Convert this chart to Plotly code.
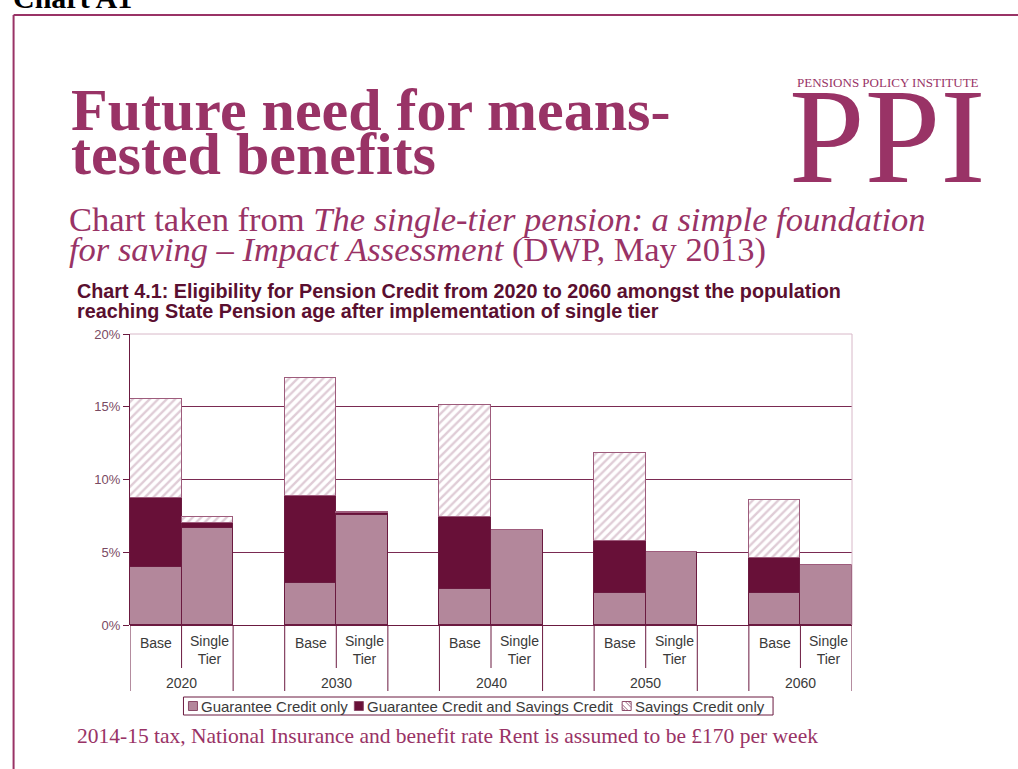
import plotly.graph_objects as go

# ---- data (percentage of population reaching State Pension age) ----
years = ["2020", "2030", "2040", "2050", "2060"]
scenarios = ["Base", "Single<br>Tier"]
series_names = ["Guarantee Credit only", "Guarantee Credit and Savings Credit", "Savings Credit only"]

base_gc_only = [4.0, 2.9, 2.5, 2.2, 2.2]
base_gc_and_sc = [4.7, 6.0, 4.95, 3.6, 2.4]
base_sc_only = [6.8, 8.05, 7.65, 6.0, 4.0]

st_gc_only = [6.65, 7.55, 6.5, 5.05, 4.15]
st_gc_and_sc = [0.35, 0.12, 0.0, 0.0, 0.0]
st_sc_only = [0.4, 0.1, 0.0, 0.0, 0.0]

y_ticks = [0, 5, 10, 15, 20]
y_tick_text = ["0%", "5%", "10%", "15%", "20%"]

# ---- page geometry (pixels) ----
W_PX, H_PX = 1018, 769
PLOT_L, PLOT_R, PLOT_T, PLOT_B = 129.5, 852, 334, 625
PW, PH = PLOT_R - PLOT_L, PLOT_B - PLOT_T


def px_x(px):
    return (px - PLOT_L) / PW


def px_y(py):
    return (PLOT_B - py) / PH


MAGENTA = "#993366"
MAROON = "#6B1A40"
LIGHT = "#B3879B"
DARK = "#681038"
HATCH = "#C09AAE"
SANS = "Arial, Liberation Sans"
SERIF = "Palatino Linotype, Book Antiqua, Liberation Serif, serif"

# each year uses three slots: Base, Single Tier, then a gap
x_base = [3 * i for i in range(len(years))]
x_st = [3 * i + 1 for i in range(len(years))]
xs = []
for b, s in zip(x_base, x_st):
    xs += [b, s]


def interleave(a, b):
    out = []
    for u, v in zip(a, b):
        out += [u, v]
    return out


gc_only = interleave(base_gc_only, st_gc_only)
gc_and_sc = interleave(base_gc_and_sc, st_gc_and_sc)
sc_only = interleave(base_sc_only, st_sc_only)

fig = go.Figure()
line = dict(color=MAROON, width=1)
fig.add_trace(go.Bar(x=xs, y=gc_only, width=1, name=series_names[0],
                     marker=dict(color=LIGHT, line=line)))
fig.add_trace(go.Bar(x=xs, y=gc_and_sc, width=1, name=series_names[1],
                     marker=dict(color=DARK, line=line)))
fig.add_trace(go.Bar(x=xs, y=sc_only, width=1, name=series_names[2],
                     marker=dict(color="white", line=dict(color="#9E5C7C", width=1),
                                 pattern=dict(shape="/", fgcolor=HATCH, bgcolor="white",
                                              size=6, solidity=0.4))))

annotations = []
shapes = []
cat_font = dict(family=SANS, size=14, color="#3a3a3a")

# category labels and dividers under the plot
for i, yr in enumerate(years):
    b, s = x_base[i], x_st[i]
    annotations.append(dict(x=b, y=px_y(643), xref="x", yref="paper", text=scenarios[0],
                            showarrow=False, yanchor="middle", font=cat_font))
    annotations.append(dict(x=s + 0.05, y=px_y(650), xref="x", yref="paper", text=scenarios[1],
                            showarrow=False, yanchor="middle", font=cat_font))
    annotations.append(dict(x=b + 0.5, y=px_y(683), xref="x", yref="paper", text=yr,
                            showarrow=False, yanchor="middle", font=cat_font))
    for xv in (b - 0.5, s + 0.5):
        shapes.append(dict(type="line", xref="x", yref="paper", x0=xv, x1=xv,
                           y0=0, y1=px_y(691), line=dict(color=MAROON, width=1)))
    shapes.append(dict(type="line", xref="x", yref="paper", x0=b + 0.5, x1=b + 0.5,
                       y0=0, y1=px_y(668), line=dict(color=MAROON, width=1)))

# light plot-area border on top and right
shapes.append(dict(type="line", xref="paper", yref="paper", x0=0, x1=1, y0=1, y1=1,
                   line=dict(color="#D8B8C8", width=1)))
shapes.append(dict(type="line", xref="paper", yref="paper", x0=1, x1=1, y0=0, y1=1,
                   line=dict(color="#D8B8C8", width=1)))

# compact legend: framed box, small swatches and labels
LEG_T, LEG_B = 697, 715
LEG_MID = (LEG_T + LEG_B) / 2
shapes.append(dict(type="rect", xref="paper", yref="paper", x0=px_x(183), x1=px_x(773),
                   y0=px_y(LEG_B), y1=px_y(LEG_T), line=dict(color=MAROON, width=1),
                   fillcolor="white"))
swatch_left = [188, 354, 622]
swatch_fill = [LIGHT, DARK, "white"]
for name, sx, fill in zip(series_names, swatch_left, swatch_fill):
    shapes.append(dict(type="rect", xref="paper", yref="paper", x0=px_x(sx), x1=px_x(sx + 9),
                       y0=px_y(LEG_MID + 4.5), y1=px_y(LEG_MID - 4.5),
                       line=dict(color="#8A4A68", width=1), fillcolor=fill))
    annotations.append(dict(x=px_x(sx + 11), y=px_y(LEG_MID), xref="paper", yref="paper",
                            xanchor="left", yanchor="middle", text=name, showarrow=False,
                            font=dict(family=SANS, size=15, color="#3a3a3a")))
# hatch strokes inside the "Savings Credit only" swatch
hatch_segments = [((622, LEG_MID + 1.5), (625, LEG_MID + 4.5)),
                  ((622, LEG_MID - 1.5), (628, LEG_MID + 4.5)),
                  ((625, LEG_MID - 4.5), (631, LEG_MID + 1.5)),
                  ((628, LEG_MID - 4.5), (631, LEG_MID - 1.5))]
for (hx0, hy0), (hx1, hy1) in hatch_segments:
    shapes.append(dict(type="line", xref="paper", yref="paper",
                       x0=px_x(hx0), x1=px_x(hx1), y0=px_y(hy0), y1=px_y(hy1),
                       line=dict(color="#A06882", width=1)))

# page frame
shapes.append(dict(type="line", xref="paper", yref="paper", x0=px_x(13), x1=px_x(1020),
                   y0=px_y(15), y1=px_y(15), line=dict(color=MAGENTA, width=2)))
shapes.append(dict(type="line", xref="paper", yref="paper", x0=px_x(13), x1=px_x(13),
                   y0=px_y(15), y1=px_y(775), line=dict(color=MAGENTA, width=2)))


def text_at(px, py, text, font, xanchor="left", yanchor="middle"):
    return dict(x=px_x(px), y=px_y(py), xref="paper", yref="paper", xanchor=xanchor,
                yanchor=yanchor, text=text, showarrow=False, font=font)


title_font = dict(family=SERIF, size=60, color=MAGENTA)
sub_font = dict(family=SERIF, size=34.5, color=MAGENTA)
chart_title_font = dict(family=SANS, size=19.8, color="#5A0F30")

annotations += [
    text_at(10, 16, "<b>Chart A1</b><sup>99</sup>",
            dict(family="Liberation Serif", size=30, color="black"), yanchor="bottom"),
    text_at(68, 110, "<b>Future need for means-</b>", title_font),
    text_at(68, 154, "<b>tested benefits</b>", title_font),
    text_at(66, 219, "Chart taken from <i>The single-tier pension: a simple foundation</i>", sub_font),
    text_at(66, 249, "<i>for saving – Impact Assessment</i> (DWP, May 2013)", sub_font),
    text_at(888, 82, "PENSIONS POLICY INSTITUTE",
            dict(family="Liberation Serif", size=13, color=MAGENTA), xanchor="center"),
    text_at(888, 136, "PPI", dict(family="Liberation Serif", size=136, color=MAGENTA),
            xanchor="center"),
    text_at(74, 291, "<b>Chart 4.1: Eligibility for Pension Credit from 2020 to 2060 amongst the population</b>",
            chart_title_font),
    text_at(74, 311, "<b>reaching State Pension age after implementation of single tier</b>",
            chart_title_font),
    text_at(74, 736, "2014-15 tax, National Insurance and benefit rate Rent is assumed to be £170 per week",
            dict(family=SERIF, size=21.5, color=MAGENTA)),
]

fig.update_layout(
    width=W_PX, height=H_PX,
    margin=dict(l=PLOT_L, r=W_PX - PLOT_R, t=PLOT_T, b=H_PX - PLOT_B, pad=0),
    paper_bgcolor="white", plot_bgcolor="white",
    barmode="stack", bargap=0,
    showlegend=False,
    xaxis=dict(range=[-0.5, 13.5], showticklabels=False, showgrid=False, zeroline=False,
               showline=False, fixedrange=True),
    yaxis=dict(range=[0, 20], tickvals=y_ticks, ticktext=y_tick_text,
               showgrid=True, gridcolor="#7A2A52", gridwidth=1,
               zeroline=True, zerolinecolor=MAROON, zerolinewidth=1,
               showline=True, linecolor=MAROON, linewidth=1,
               ticks="outside", ticklen=6, tickcolor=MAROON,
               tickfont=dict(family=SANS, size=13, color="#7A4A62")),
    annotations=annotations, shapes=shapes,
)

fig.write_html("out.html")
